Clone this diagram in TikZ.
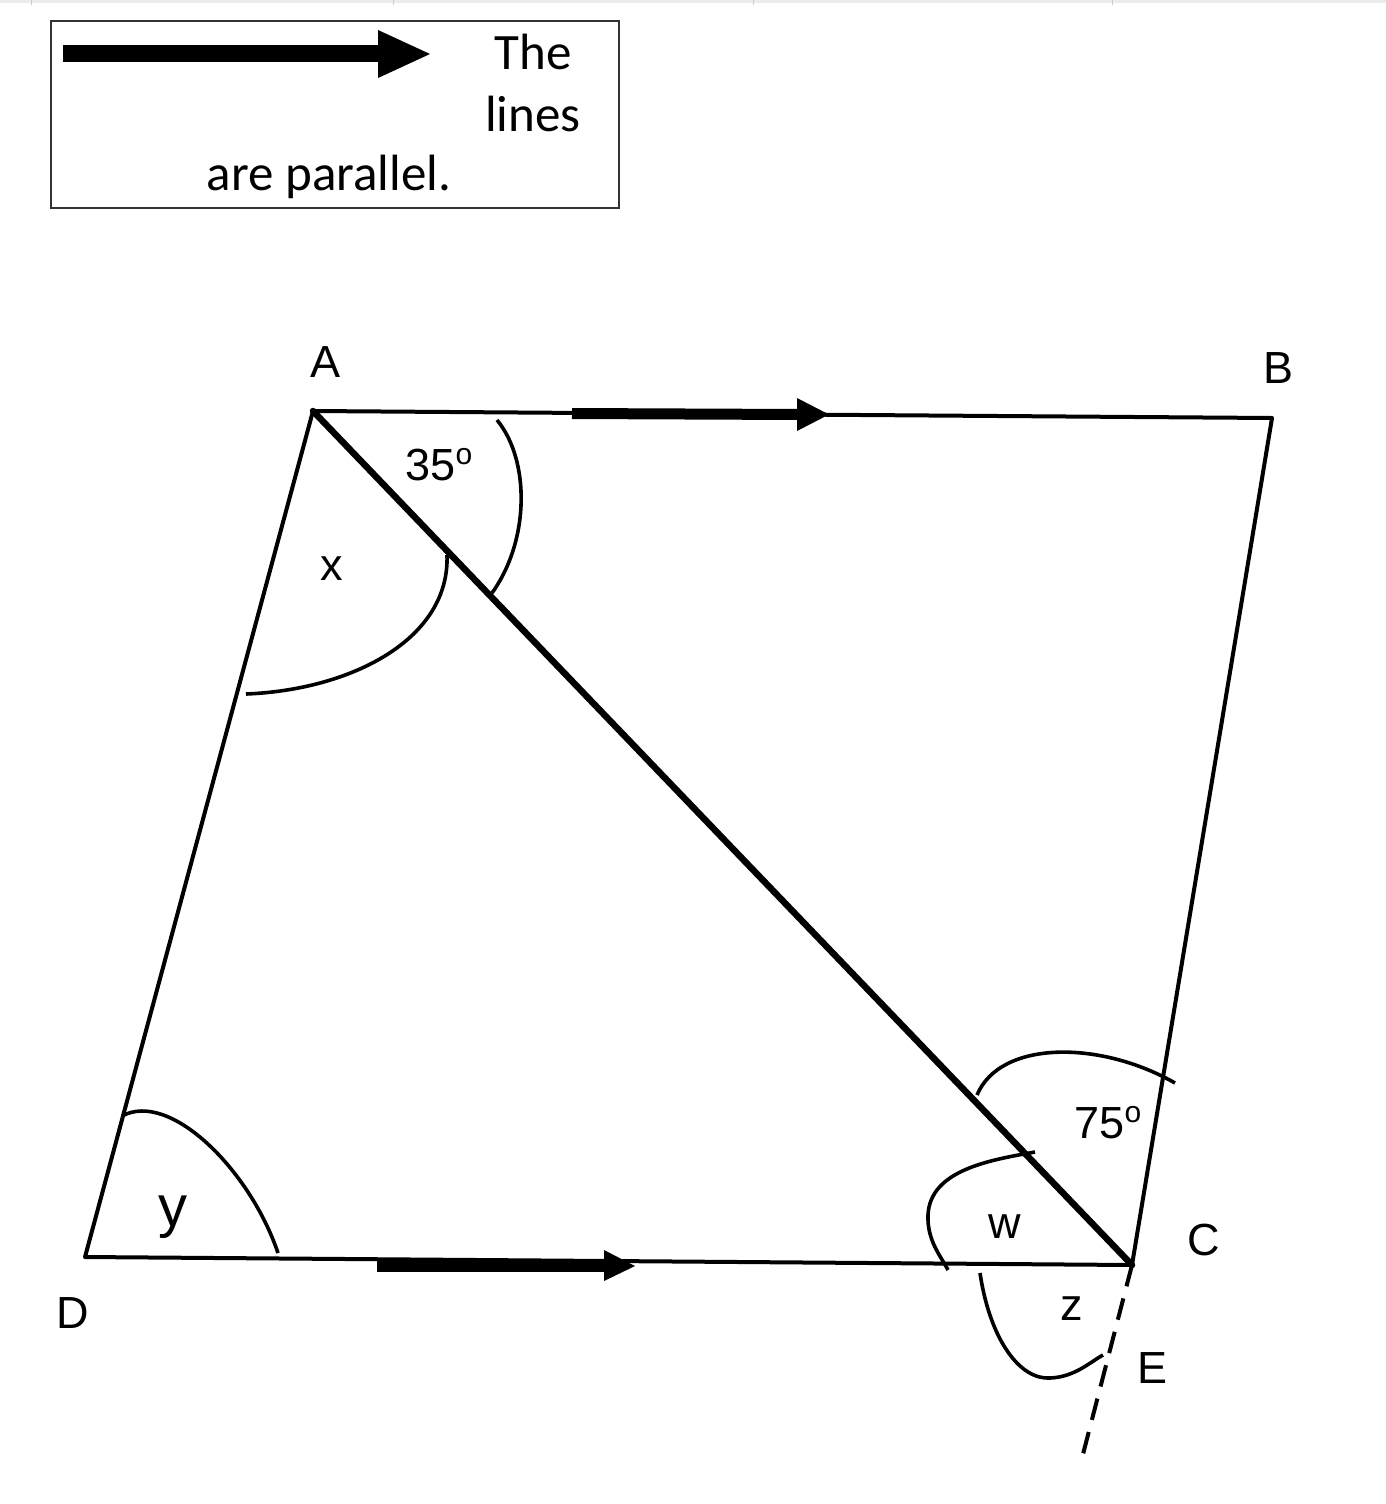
\documentclass[tikz,border=0pt]{standalone}
\usepackage{fontspec}
\newfontfamily\labfont{Liberation Sans}
\newfontfamily\calfont{Carlito}
\newcommand{\degsym}{\raisebox{16pt}{\fontsize{30}{30}\selectfont o}}
\begin{document}
\begin{tikzpicture}[x=1pt,y=-1pt,
  geo/.style={line width=4pt, line join=round, line cap=round},
  diag/.style={line width=6.5pt, line cap=round},
  arcst/.style={line width=3.6pt},
  parmark/.style={line width=11pt},
  lbl/.style={font=\labfont\fontsize{45}{45}\selectfont, anchor=base, inner sep=0pt},
  leg/.style={font=\calfont\fontsize{51}{51}\selectfont, anchor=base, inner sep=0pt}]
\useasboundingbox (0,0) rectangle (1386,1504);
% faint top strip
\fill[gray!15] (0,0) rectangle (1386,3);
\foreach \xx in {31,393,753,1112} \draw[gray!40, line width=1pt] (\xx,0) -- (\xx,5);
% legend
\draw[line width=2pt, black!80] (51,21) rectangle (619,208);
\draw[line width=17pt] (63,54) -- (380,54);
\fill (378,30) -- (430,54) -- (378,78) -- cycle;
\node[leg] (t1) at (533,70) {The};
\node[leg] (t2) at (533,131) {lines};
\node[leg] (t3) at (329,190) {are parallel.};
% vertices
\coordinate (A) at (313,411);
\coordinate (B) at (1272,418);
\coordinate (C) at (1132,1265);
\coordinate (D) at (85,1257);
\coordinate (E) at (1082,1458);
% sides
\draw[geo] (A) -- (B) -- (C) -- (D) -- cycle;
\draw[diag] (A) -- (C);
\draw[geo, line cap=butt, dash pattern=on 22pt off 12.5pt] (C) -- (E);
% parallel marks
\draw[parmark] (572,413.5) -- (800,414.5);
\fill (797,398) -- (829,414.5) -- (797,431) -- cycle;
\draw[parmark] (377,1266) -- (607,1266);
\fill (604,1250) -- (635,1266) -- (604,1281) -- cycle;
% angle arcs
\draw[arcst] (497,420) .. controls (530,460) and (530,540) .. (492,593);
\draw[arcst] (447,555) .. controls (450,640) and (350,690) .. (246,694);
\draw[arcst] (122,1116) .. controls (170,1090) and (250,1170) .. (278,1253);
\draw[arcst] (977,1095) .. controls (1000,1040) and (1100,1040) .. (1175,1083);
\draw[arcst] (1035,1152) .. controls (990,1160) and (930,1170) .. (928,1215) .. controls (927,1240) and (940,1255) .. (948,1270);
\draw[arcst] (980,1273) .. controls (990,1340) and (1020,1380) .. (1050,1378) .. controls (1075,1377) and (1090,1362) .. (1103,1355);
% vertex labels
\node[lbl] (lA) at (326,377) {A};
\node[lbl] (lB) at (1278,383) {B};
\node[lbl] (lC) at (1204,1255) {C};
\node[lbl] (lD) at (73,1328) {D};
\node[lbl] (lE) at (1152,1383) {E};
% angle labels
\node[lbl] (a35) at (439,480) {35\degsym};
\node[lbl] (ax) at (332,580) {x};
\node[lbl] (a75) at (1108,1138) {75\degsym};
\node[lbl] (aw) at (1005,1238) {w};
\node[lbl] (az) at (1072,1320) {z};
\node[lbl, font=\labfont\fontsize{58}{58}\selectfont] (ay) at (173,1226) {y};
\end{tikzpicture}
\end{document}
